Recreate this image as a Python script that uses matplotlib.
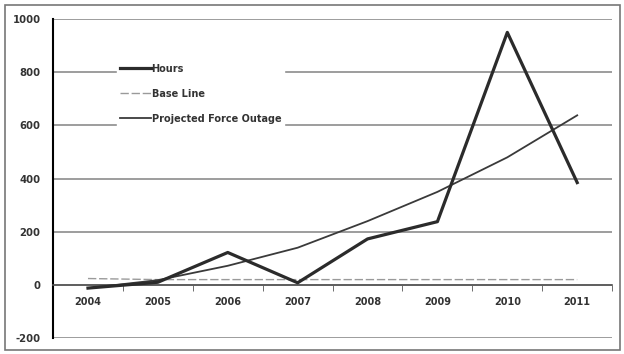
import matplotlib.pyplot as plt
from matplotlib.patches import Rectangle

years = ['2004', '2005', '2006', '2007', '2008', '2009', '2010', '2011']
hours = [-12, 10, 122, 8, 173, 238, 950, 385]
base_line = [24, 20, 20, 20, 20, 20, 20, 20]
projected = [-12, 18, 72, 140, 240, 350, 480, 638]

plt.rcParams['font.family'] = ['DejaVu Sans']
plt.rcParams['axes.unicode_minus'] = False

fig = plt.figure(figsize=(6.24, 3.54), dpi=100)
ax = fig.add_axes([0.085, 0.045, 0.896, 0.901])

x = list(range(len(years)))
ax.plot(x, hours, color='#2b2b2b', lw=2.3, label='Hours', zorder=4)
ax.plot(x, base_line, color='#9a9a9a', lw=1.0, ls=(0, (6, 2)), label='Base Line', zorder=3)
ax.plot(x, projected, color='#3a3a3a', lw=1.3, label='Projected Force Outage', zorder=3)

ax.set_xlim(-0.5, len(years) - 0.5)
ax.set_ylim(-200, 1000)
ax.set_yticks(range(-200, 1001, 200))
ax.yaxis.grid(True, color='#8c8c8c', lw=1.2)
ax.set_axisbelow(True)

# category axis crosses at zero, ticks between categories
ax.spines['bottom'].set_position(('data', 0))
ax.spines['bottom'].set_color('#555555')
ax.spines['bottom'].set_linewidth(1.2)
ax.spines['top'].set_visible(False)
ax.spines['right'].set_visible(False)
ax.spines['left'].set_linewidth(1.5)
ax.set_xticks(x)
ax.set_xticklabels(years, fontsize=7, fontweight='bold', color='#333333')
ax.tick_params(axis='x', length=0, pad=9)
ax.set_xticks([i + 0.5 for i in x], minor=True)
ax.tick_params(axis='x', which='minor', length=4, direction='out', color='#555555')
ax.tick_params(axis='y', length=0, labelsize=7.3, pad=9, labelcolor='#333333')
for lab in ax.get_yticklabels():
    lab.set_fontweight('bold')

leg = ax.legend(loc='upper left', bbox_to_anchor=(0.105, 0.885), frameon=True,
                handlelength=3.2, handletextpad=0.1, labelspacing=1.55,
                borderpad=0.3, prop={'weight': 'bold', 'size': 7})
leg.get_frame().set_edgecolor('white')
leg.get_frame().set_facecolor('white')
leg.get_frame().set_alpha(1)
for t in leg.get_texts():
    t.set_color('#333333')

fig.patches.append(Rectangle((0.008, 0.012), 0.986, 0.975, transform=fig.transFigure,
                             fill=False, ec='#777777', lw=1.2))

fig.savefig('out.png', dpi=100)
